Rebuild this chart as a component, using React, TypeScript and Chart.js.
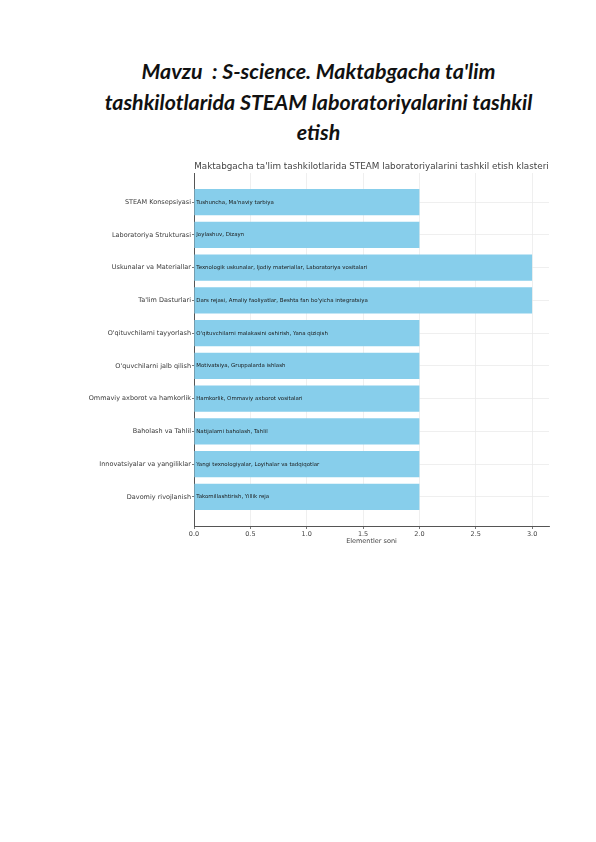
import React, { useEffect, useRef } from "react";
import { Chart, registerables } from "chart.js";

Chart.register(...registerables);

const headingLines = [
  "Mavzu\u00a0 : S-science. Maktabgacha ta'lim",
  "tashkilotlarida STEAM laboratoriyalarini tashkil",
  "etish",
];

const chartTitle = "Maktabgacha ta'lim tashkilotlarida STEAM laboratoriyalarini tashkil etish klasteri";
const xAxisTitle = "Elementler soni";

const categories = [
  "STEAM Konsepsiyasi",
  "Laboratoriya Strukturasi",
  "Uskunalar va Materiallar",
  "Ta'lim Dasturlari",
  "O'qituvchilarni tayyorlash",
  "O'quvchilarni jalb qilish",
  "Ommaviy axborot va hamkorlik",
  "Baholash va Tahlil",
  "Innovatsiyalar va yangiliklar",
  "Davomiy rivojlanish",
];

const values = [2, 2, 3, 3, 2, 2, 2, 2, 2, 2];

const barTexts = [
  "Tushuncha, Ma'naviy tarbiya",
  "Joylashuv, Dizayn",
  "Texnologik uskunalar, Ijodiy materiallar, Laboratoriya vositalari",
  "Dars rejasi, Amaliy faoliyatlar, Beshta fan bo'yicha integratsiya",
  "O'qituvchilarni malakasini oshirish, Yana qiziqish",
  "Motivatsiya, Gruppalarda ishlash",
  "Hamkorlik, Ommaviy axborot vositalari",
  "Natijalarni baholash, Tahlil",
  "Yangi texnologiyalar, Loyihalar va tadqiqotlar",
  "Takomillashtirish, Yillik reja",
];

const xTicks = [0, 0.5, 1, 1.5, 2, 2.5, 3];
const xMin = 0;
const xMax = 3.15;
const yMin = -0.89;
const yMax = 9.89;

const FONT = "'DejaVu Sans', sans-serif";

export default function App() {
  const canvasRef = useRef<HTMLCanvasElement | null>(null);

  useEffect(() => {
    const canvas = canvasRef.current;
    if (!canvas) return;

    const titlePlugin = {
      id: "customTitle",
      afterDraw(chart: any) {
        const { ctx, chartArea } = chart;
        ctx.save();
        ctx.font = `8.8px ${FONT}`;
        ctx.fillStyle = "#444444";
        ctx.textAlign = "center";
        ctx.textBaseline = "middle";
        ctx.fillText(chartTitle, (chartArea.left + chartArea.right) / 2, chartArea.top - 6);
        ctx.restore();
      },
    };

    const barTextPlugin = {
      id: "barTexts",
      afterDatasetsDraw(chart: any) {
        const { ctx } = chart;
        const xs = chart.scales.x;
        const ys = chart.scales.y;
        ctx.save();
        ctx.font = `5.45px ${FONT}`;
        ctx.fillStyle = "#1a1a1a";
        ctx.textAlign = "left";
        ctx.textBaseline = "middle";
        barTexts.forEach((t, i) => {
          ctx.fillText(t, xs.getPixelForValue(0.02), ys.getPixelForValue(i));
        });
        ctx.restore();
      },
    };

    const chart = new Chart(canvas, {
      type: "bar",
      data: {
        datasets: [
          {
            data: values.map((v, i) => ({ x: v, y: i })),
            backgroundColor: "#87CEEB",
            borderWidth: 0,
            categoryPercentage: 1,
            barPercentage: 0.8,
          } as any,
        ],
      },
      options: {
        indexAxis: "y",
        animation: false,
        responsive: false,
        devicePixelRatio: 1,
        layout: { padding: { left: 0, right: 47, top: 23, bottom: 0 } },
        plugins: {
          legend: { display: false },
          title: { display: false },
          tooltip: { enabled: false },
        },
        scales: {
          x: {
            type: "linear",
            position: "bottom",
            min: xMin,
            max: xMax,
            offset: false,
            afterBuildTicks: (s: any) => {
              s.ticks = xTicks.map((v) => ({ value: v }));
            },
            afterFit: (s: any) => {
              s.height = 22;
            },
            ticks: {
              autoSkip: false,
              maxRotation: 0,
              padding: 1,
              color: "#444444",
              font: { family: FONT, size: 6.5 },
              callback: (v: any) => Number(v).toFixed(1),
            },
            grid: {
              color: "#ebebeb",
              lineWidth: 0.8,
              tickLength: 3,
              tickColor: "#555555",
              offset: false,
            },
            border: { display: true, color: "#555555", width: 1 },
            title: {
              display: true,
              text: xAxisTitle,
              color: "#444444",
              font: { family: FONT, size: 6.5 },
              padding: { top: 0, bottom: 3 },
            },
          },
          y: {
            type: "linear",
            reverse: true,
            min: yMin,
            max: yMax,
            offset: false,
            afterBuildTicks: (s: any) => {
              s.ticks = categories.map((_, i) => ({ value: i }));
            },
            afterFit: (s: any) => {
              s.width = 194;
            },
            ticks: {
              autoSkip: false,
              padding: 1,
              color: "#3a3a3a",
              font: { family: FONT, size: 6.5 },
              callback: (v: any) => categories[Math.round(Number(v))],
            },
            grid: {
              color: "#ebebeb",
              lineWidth: 0.8,
              tickLength: 2,
              tickColor: "#555555",
              offset: false,
            },
            border: { display: true, color: "#555555", width: 1 },
          },
        },
      } as any,
      plugins: [titlePlugin, barTextPlugin],
    });

    return () => chart.destroy();
  }, []);

  return (
    <div style={{ position: "absolute", left: 0, top: 0, width: 596, height: 842, background: "#ffffff" }}>
      <div
        style={{
          position: "absolute",
          left: 40,
          top: 56,
          width: 557,
          textAlign: "center",
          fontFamily: "Lato, sans-serif",
          fontWeight: 700,
          fontStyle: "italic",
          fontSize: 21.4,
          lineHeight: "30.5px",
          color: "#111111",
        }}
      >
        {headingLines.map((l, i) => (
          <div key={i}>{l}</div>
        ))}
      </div>
      <canvas
        ref={canvasRef}
        width={596}
        height={398}
        style={{ position: "absolute", left: 0, top: 150, width: 596, height: 398 }}
      />
    </div>
  );
}
